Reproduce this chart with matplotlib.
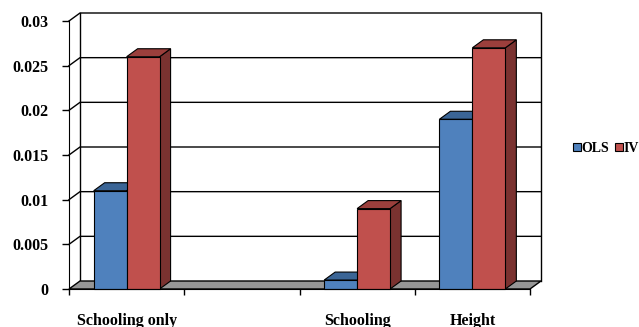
import numpy as np
import matplotlib.pyplot as plt
from matplotlib.patches import Polygon
from matplotlib.lines import Line2D

categories = ['Schooling only', '', 'Schooling', 'Height']
ols = [0.011, np.nan, 0.001, 0.019]
iv = [0.026, np.nan, 0.009, 0.027]
yticks = [0, 0.005, 0.01, 0.015, 0.02, 0.025, 0.03]
ytick_labels = ['0', '0.005', '0.01', '0.015', '0.02', '0.025', '0.03']

plt.rcParams['font.family'] = 'Liberation Serif'
plt.rcParams['font.weight'] = 'bold'

fig = plt.figure(figsize=(6.39, 3.27), dpi=100)
ax = fig.add_axes([69/639, 38/327, 461/639, 268/327])
n = len(categories)
ax.set_xlim(0, n)
ax.set_ylim(0, 0.03)

# depth offset of the 3d look (in data units)
DX = n * 11 / 461
DY = 0.03 * 8 / 268

kw = dict(color='black', lw=1, clip_on=False, zorder=1)
# back wall and side wall grid
for v in yticks[1:]:
    ax.plot([0, DX, n + DX], [v, v + DY, v + DY], **kw)
ax.plot([DX, DX], [DY, 0.03 + DY], **kw)
ax.plot([n + DX, n + DX], [DY, 0.03 + DY], **kw)

floor = Polygon([(0, 0), (n, 0), (n + DX, DY), (DX, DY)], closed=True,
                fc='#969696', ec='black', lw=1, clip_on=False, zorder=2)
ax.add_patch(floor)

w = 0.286
series = [('OLS', ols, '#4f81bd', '#3b6596', '#2e5078', -w / 2),
          ('IV', iv, '#c0504d', '#9b3f3c', '#7a3230', w / 2)]
z = 3
for i in range(n):
    for name, vals, c_front, c_top, c_side, off in series:
        v = vals[i]
        if np.isnan(v):
            continue
        x0 = i + 0.5 + off - w / 2
        x1 = x0 + w
        side = Polygon([(x1, 0), (x1 + DX, DY), (x1 + DX, v + DY), (x1, v)],
                       closed=True, fc=c_side, ec='black', lw=0.8, zorder=z, clip_on=False)
        top = Polygon([(x0, v), (x1, v), (x1 + DX, v + DY), (x0 + DX, v + DY)],
                      closed=True, fc=c_top, ec='black', lw=0.8, zorder=z, clip_on=False)
        ax.add_patch(side)
        ax.add_patch(top)
        ax.bar(x0, v, w, align='edge', color=c_front, edgecolor='black', lw=0.8,
               zorder=z + 0.5, clip_on=False)
        z += 1

for s in ['top', 'right']:
    ax.spines[s].set_visible(False)
ax.spines['left'].set_zorder(50)
ax.spines['bottom'].set_zorder(50)

ax.set_yticks(yticks)
ax.set_yticklabels(ytick_labels, fontsize=11.5, fontweight='bold')
ax.tick_params(axis='y', length=5, pad=10, width=1)

ax.set_xticks(range(n + 1))
ax.set_xticklabels([])
ax.tick_params(axis='x', which='major', length=4, width=1)
ax.set_xticks([i + 0.5 for i in range(n)], minor=True)
ax.set_xticklabels(categories, minor=True, fontsize=11.5, fontweight='bold')
ax.tick_params(axis='x', which='minor', length=0, pad=17)

handles = [Line2D([], [], marker='s', ls='', markersize=5.5, markerfacecolor=s[2],
                  markeredgecolor='black', markeredgewidth=0.8) for s in series]
fig.legend(handles, [s[0] for s in series], loc='center left',
           bbox_to_anchor=(574/639, 1 - 148/327), ncol=2, frameon=False,
           handlelength=0.45, handletextpad=0.1, columnspacing=0.45,
           borderpad=0, borderaxespad=0,
           prop={'family': 'Liberation Serif', 'weight': 'bold', 'size': 10})

fig.savefig('out.png', dpi=100)
